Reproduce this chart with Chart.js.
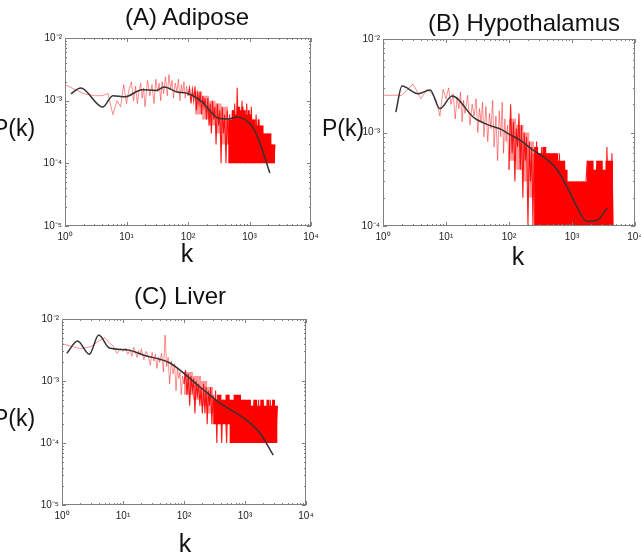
<!DOCTYPE html>
<html>
<head>
<meta charset="utf-8">
<script src="https://cdn.jsdelivr.net/npm/chart.js@4.4.1/dist/chart.umd.min.js"></script>
<style>
  html, body { margin: 0; padding: 0; background: #fff; }
  body { width: 641px; height: 558px; position: relative; overflow: hidden; }
  canvas { position: absolute; }
  .lbl {
    position: absolute;
    transform: translate(-50%, -50%);
    white-space: nowrap;
    font-family: Arial, "Liberation Sans", sans-serif;
    color: #111;
    line-height: 1;
  }
  .title { font-size: 24px; }
  .ylab { font-size: 23px; }
  .xlab { font-size: 25px; }
</style>
</head>
<body>

<canvas id="chartA" width="320" height="224" style="left:5px;top:26px"></canvas>
<canvas id="chartB" width="326" height="223" style="left:323px;top:27px"></canvas>
<canvas id="chartC" width="318" height="222" style="left:2px;top:307px"></canvas>

<div class="lbl title" style="left:187px;top:17px">(A) Adipose</div>
<div class="lbl title" style="left:524px;top:23px">(B) Hypothalamus</div>
<div class="lbl title" style="left:180px;top:296px">(C) Liver</div>

<div class="lbl ylab" style="left:14px;top:128px">P(k)</div>
<div class="lbl ylab" style="left:343px;top:128px">P(k)</div>
<div class="lbl ylab" style="left:14px;top:418px">P(k)</div>

<div class="lbl xlab" style="left:187px;top:253px">k</div>
<div class="lbl xlab" style="left:518px;top:256px">k</div>
<div class="lbl xlab" style="left:185px;top:543px">k</div>

<script>
// Eixos (expoentes e rótulos)
const xTickExps = [0, 1, 2, 3, 4];
const xTickLabels = ['10⁰', '10¹', '10²', '10³', '10⁴'];
const yTickExpsAC = [-5, -4, -3, -2];
const yTickLabelsAC = ['10⁻⁵', '10⁻⁴', '10⁻³', '10⁻²'];
const yTickExpsB = [-4, -3, -2];
const yTickLabelsB = ['10⁻⁴', '10⁻³', '10⁻²'];

// Grau k (pontos da curva vermelha, comum aos três painéis)
const kGrid = [
    1, 2, 3, 4, 5, 6, 7, 8, 9, 10,
    11, 12, 13, 14, 15, 16, 17, 18, 19, 20,
    22, 24, 26, 28, 30, 32, 34, 36, 38, 40,
    43, 46, 49, 52, 55, 58, 62, 66, 70, 74, 78, 82, 86, 90, 95, 100,
    106, 112, 118, 124, 130, 137, 144, 151, 158, 166, 174, 182, 190, 200,
    210, 220, 230, 240, 250, 262, 274, 286, 300, 315, 330, 345, 360, 378, 396, 415, 435, 455, 475, 500,
    525, 550, 575, 600, 630, 660, 690, 720, 755, 790, 825, 860, 900, 940, 980, 1020, 1070, 1120, 1170, 1220,
    1280, 1340, 1400, 1460, 1530, 1600, 1670, 1740, 1820, 1900, 1990, 2080, 2170, 2270, 2370, 2480, 2600,
    2720, 2850, 2980, 3120, 3270, 3420, 3580, 3750, 3920, 4100, 4300, 4500
];

// P(k) em unidades de 1e-4
const unit = 1e-4;
const rawA = [
    18, 13, 12, 12, 13, 6, 10, 8, 18, 9,
    15, 20, 10, 17, 9, 14, 19, 11, 16, 8,
    21, 12, 18, 9, 22, 14, 19, 10, 20, 13,
    24, 12, 26, 15, 21, 11, 19, 14, 22, 10, 18, 13, 20, 11, 17, 12,
    16, 9, 15, 10, 17, 7, 13, 9, 14, 6, 12, 8, 11, 5,
    11, 4, 9, 3, 10, 5, 8, 2, 9, 4, 7, 1, 8, 3, 6, 1, 7, 2, 6, 1,
    7, 2, 9, 1, 16, 3, 8, 1, 10, 2, 7, 1, 9, 3, 6, 1, 8, 2, 5, 1,
    6, 2, 5, 1, 4, 2, 3, 1, 3, 1, 3, 1, 3, 1, 2, 1, 2
];
const rawB = [
    25, 25, 33, 23, 29, 26, 22, 15, 29, 23,
    30, 20, 26, 14, 24, 18, 27, 13, 22, 16,
    25, 12, 20, 15, 23, 10, 18, 13, 21, 9,
    19, 8, 16, 11, 22, 7, 15, 5, 17, 9, 21, 6, 14, 8, 12, 4,
    20, 6, 13, 3, 11, 7, 16, 4, 12, 2, 10, 5, 9, 1,
    8, 3, 7, 1, 6, 2, 8, 1, 5, 3, 7, 1, 6, 2, 5, 1, 6, 3, 4, 1,
    6, 2, 5, 1, 6, 2, 4, 1, 5, 2, 3, 1, 3, 2, 3, 1, 3, 1, 3, 2,
    3, 1, 3, 1, 3, 2, 3, 5, 1, 4, 2, 5, 1, 4, 2, 5, 1,
    4, 1, 5, 2, 4, 1, 7, 2, 5, 1, 6, 1
];
const rawC = [
    40, 33, 36, 44, 50, 41, 36, 28, 33, 30,
    34, 27, 32, 25, 35, 29, 24, 31, 26, 33,
    22, 30, 25, 18, 29, 21, 27, 16, 24, 20,
    28, 14, 55, 17, 24, 9, 21, 13, 19, 7, 16, 11, 14, 6, 12, 9,
    15, 6, 13, 4, 12, 7, 11, 3, 10, 6, 9, 4, 8, 3,
    9, 3, 8, 2, 7, 4, 8, 2, 6, 3, 7, 1, 6, 2, 5, 1, 5, 3, 4, 1,
    6, 2, 5, 1, 4, 2, 5, 1, 4, 3, 5, 1, 4, 2, 5, 1, 3, 2, 5, 1,
    4, 2, 5, 1, 3, 2, 5, 1, 4, 2, 5, 1, 3, 2, 4, 1, 5,
    2, 5, 1, 3, 2, 4
];

// Região densa: limites superior/inferior da massa vermelha (contagens x 1e-4)
const envKA = [130, 170, 220, 280, 350, 450, 520, 570, 620, 680, 740, 800, 870, 940, 1010, 1090, 1170, 1260, 1360, 1460, 1570, 1690, 1820, 1960, 2110, 2270, 2440, 2600];
const envHiA = [14, 12, 10, 9, 8, 5, 7, 6, 8, 7, 8, 7, 6, 7, 6, 5, 5, 4, 5, 4, 4, 3, 3, 3, 3, 2, 2, 2];
const envLoA = [6, 5, 4, 3, 2, 1, 1, 1, 1, 1, 1, 1, 1, 1, 1, 1, 1, 1, 1, 1, 1, 1, 1, 1, 1, 1, 1, 1];
const envKB = [100, 130, 170, 210, 250, 290, 340, 390, 450, 520, 600, 690, 780, 850, 960, 1080, 1200, 1350, 1500, 1650, 1750, 1950, 2200, 2450, 2750, 3050, 3400, 3800, 4200, 4500];
const envHiB = [14, 12, 10, 8, 7, 6, 7, 6, 6, 6, 5, 5, 4, 3, 3, 3, 3, 3, 3, 3, 5, 5, 4, 5, 5, 4, 5, 5, 5, 5];
const envLoB = [5, 4, 3, 2, 1, 1, 1, 1, 1, 1, 1, 1, 1, 1, 1, 1, 1, 1, 1, 1, 1, 1, 1, 1, 1, 1, 1, 1, 1, 1];
const envKC = [100, 140, 190, 240, 300, 350, 410, 480, 560, 650, 750, 860, 990, 1100, 1250, 1400, 1580, 1780, 2000, 2250, 2500, 2800, 3100, 3420];
const envHiC = [14, 12, 10, 8, 5, 6, 5, 6, 5, 6, 6, 5, 5, 5, 4, 5, 4, 5, 4, 5, 4, 5, 4, 4];
const envLoC = [6, 5, 4, 3, 2, 2, 2, 2, 1, 1, 1, 1, 1, 1, 1, 1, 1, 1, 1, 1, 1, 1, 1, 1];
// k a partir do qual a massa fica totalmente sólida
const solidFromA = 450;
const solidFromB = 250;
const solidFromC = 300;

// Curvas suavizadas (pretas)
const kSmoothA = [1.25, 1.8, 4.1, 6, 9.4, 18, 30, 41, 66, 100, 170, 306, 450, 620, 850, 1140, 1480, 2140];
const pSmoothA = [1.29e-3, 1.6e-3, 7.9e-4, 1.2e-3, 1.15e-3, 1.5e-3, 1.45e-3, 1.65e-3, 1.38e-3, 1.3e-3, 9.5e-4, 5.3e-4, 5.1e-4, 5.5e-4, 5.0e-4, 3.7e-4, 2.1e-4, 7e-5];
const kSmoothB = [1.6, 2, 3.6, 5.6, 8, 12.5, 28, 48, 75, 100, 150, 240, 350, 580, 840, 1200, 1720, 2500, 3600];
const pSmoothB = [1.65e-3, 3.15e-3, 2.6e-3, 2.85e-3, 1.8e-3, 2.45e-3, 1.43e-3, 1.2e-3, 1.08e-3, 9.6e-4, 8.3e-4, 6.5e-4, 5.5e-4, 4e-4, 2.6e-4, 1.6e-4, 1.12e-4, 1.15e-4, 1.55e-4];
const kSmoothC = [1.2, 1.8, 2.8, 4, 6, 11.5, 25, 40, 59, 183, 390, 1080, 1750, 2900];
const pSmoothC = [2.8e-3, 4.4e-3, 2.7e-3, 5.5e-3, 3.4e-3, 3.2e-3, 2.5e-3, 2.25e-3, 1.95e-3, 8e-4, 4.4e-4, 2.3e-4, 1.45e-4, 6.4e-5];

// A partir deste k a curva vermelha fica densa (traço mais forte)
const denseFrom = 100;

function toPoints(ks, ps, scale) {
    return ps.map((p, i) => ({ x: ks[i], y: p * scale }));
}

// Moldura + marcas de escala para dentro (estilo MATLAB)
const frameTicks = {
    id: 'frameTicks',
    afterDatasetsDraw(chart) {
        const { ctx, chartArea: a, scales } = chart;
        ctx.save();
        ctx.strokeStyle = '#808080';
        ctx.lineWidth = 1;
        ctx.strokeRect(a.left + 0.5, a.top + 0.5, a.right - a.left - 1, a.bottom - a.top - 1);
        ['x', 'y'].forEach(id => {
            const s = scales[id];
            const lo = Math.round(Math.log10(s.min));
            const hi = Math.round(Math.log10(s.max));
            for (let e = lo; e <= hi; e++) {
                for (let m = 1; m < 10; m++) {
                    const v = m * Math.pow(10, e);
                    if (v > s.max * 1.0001) break;
                    const p = Math.round(s.getPixelForValue(v)) + 0.5;
                    const len = m === 1 ? 4 : 2;
                    ctx.beginPath();
                    if (id === 'x') {
                        ctx.moveTo(p, a.bottom); ctx.lineTo(p, a.bottom - len);
                        ctx.moveTo(p, a.top); ctx.lineTo(p, a.top + len);
                    } else {
                        ctx.moveTo(a.left, p); ctx.lineTo(a.left + len, p);
                        ctx.moveTo(a.right, p); ctx.lineTo(a.right - len, p);
                    }
                    ctx.stroke();
                }
            }
        });
        ctx.restore();
    }
};

function noPadding(scale) {
    scale.paddingLeft = 0;
    scale.paddingRight = 0;
    scale.paddingTop = 0;
    scale.paddingBottom = 0;
}

function makePanel(canvasId, raw, envK, envHi, envLo, solidFrom, kSmooth, pSmooth, yExps, yLabels) {
    const ctx = document.getElementById(canvasId).getContext('2d');
    return new Chart(ctx, {
        type: 'line',
        data: {
            datasets: [{
                label: 'smooth',
                data: toPoints(kSmooth, pSmooth, 1),
                borderColor: '#333333',
                borderWidth: 1.5,
                pointRadius: 0,
                cubicInterpolationMode: 'monotone'
            }, {
                label: 'P(k)',
                data: toPoints(kGrid, raw, unit),
                pointRadius: 0,
                tension: 0,
                borderColor: 'rgba(255, 0, 0, 0.6)',
                borderWidth: 0.75,
                segment: {
                    borderColor: c => c.p0.parsed.x >= denseFrom ? 'rgba(255, 0, 0, 0.9)' : 'rgba(255, 0, 0, 0.6)',
                    borderWidth: c => c.p0.parsed.x >= denseFrom ? 1.1 : 0.75
                }
            }, {
                label: 'dense hi',
                data: toPoints(envK, envHi, unit),
                pointRadius: 0,
                borderWidth: 0,
                stepped: true,
                backgroundColor: '#ff0000',
                segment: {
                    backgroundColor: c => c.p0.parsed.x >= solidFrom ? '#ff0000' : 'rgba(255, 0, 0, 0.4)'
                },
                fill: '+1'
            }, {
                label: 'dense lo',
                data: toPoints(envK, envLo, unit),
                pointRadius: 0,
                borderWidth: 0,
                stepped: true,
                fill: false
            }]
        },
        options: {
            responsive: false,
            animation: false,
            devicePixelRatio: 1,
            layout: { padding: { left: 10, right: 14, top: 12, bottom: 4 } },
            plugins: {
                legend: { display: false },
                tooltip: { enabled: false }
            },
            scales: {
                x: {
                    type: 'logarithmic',
                    min: 1,
                    max: 1e4,
                    grid: { display: false, drawTicks: false },
                    border: { display: false },
                    afterBuildTicks: s => { s.ticks = xTickExps.map(e => ({ value: Math.pow(10, e), major: true })); },
                    afterFit: s => { s.height = 20; noPadding(s); },
                    ticks: {
                        autoSkip: false,
                        maxRotation: 0,
                        padding: 5,
                        color: '#222',
                        font: { family: 'Arial', size: 10 },
                        callback: (v, i) => xTickLabels[i]
                    }
                },
                y: {
                    type: 'logarithmic',
                    min: Math.pow(10, yExps[0]),
                    max: Math.pow(10, yExps[yExps.length - 1]),
                    grid: { display: false, drawTicks: false },
                    border: { display: false },
                    afterBuildTicks: s => { s.ticks = yExps.map(e => ({ value: Math.pow(10, e), major: true })); },
                    afterFit: s => { s.width = 50; noPadding(s); },
                    ticks: {
                        autoSkip: false,
                        padding: 3,
                        color: '#222',
                        font: { family: 'Arial', size: 10 },
                        callback: (v, i) => yLabels[i]
                    }
                }
            }
        },
        plugins: [frameTicks]
    });
}

makePanel('chartA', rawA, envKA, envHiA, envLoA, solidFromA, kSmoothA, pSmoothA, yTickExpsAC, yTickLabelsAC);
makePanel('chartB', rawB, envKB, envHiB, envLoB, solidFromB, kSmoothB, pSmoothB, yTickExpsB, yTickLabelsB);
makePanel('chartC', rawC, envKC, envHiC, envLoC, solidFromC, kSmoothC, pSmoothC, yTickExpsAC, yTickLabelsAC);
</script>
</body>
</html>
